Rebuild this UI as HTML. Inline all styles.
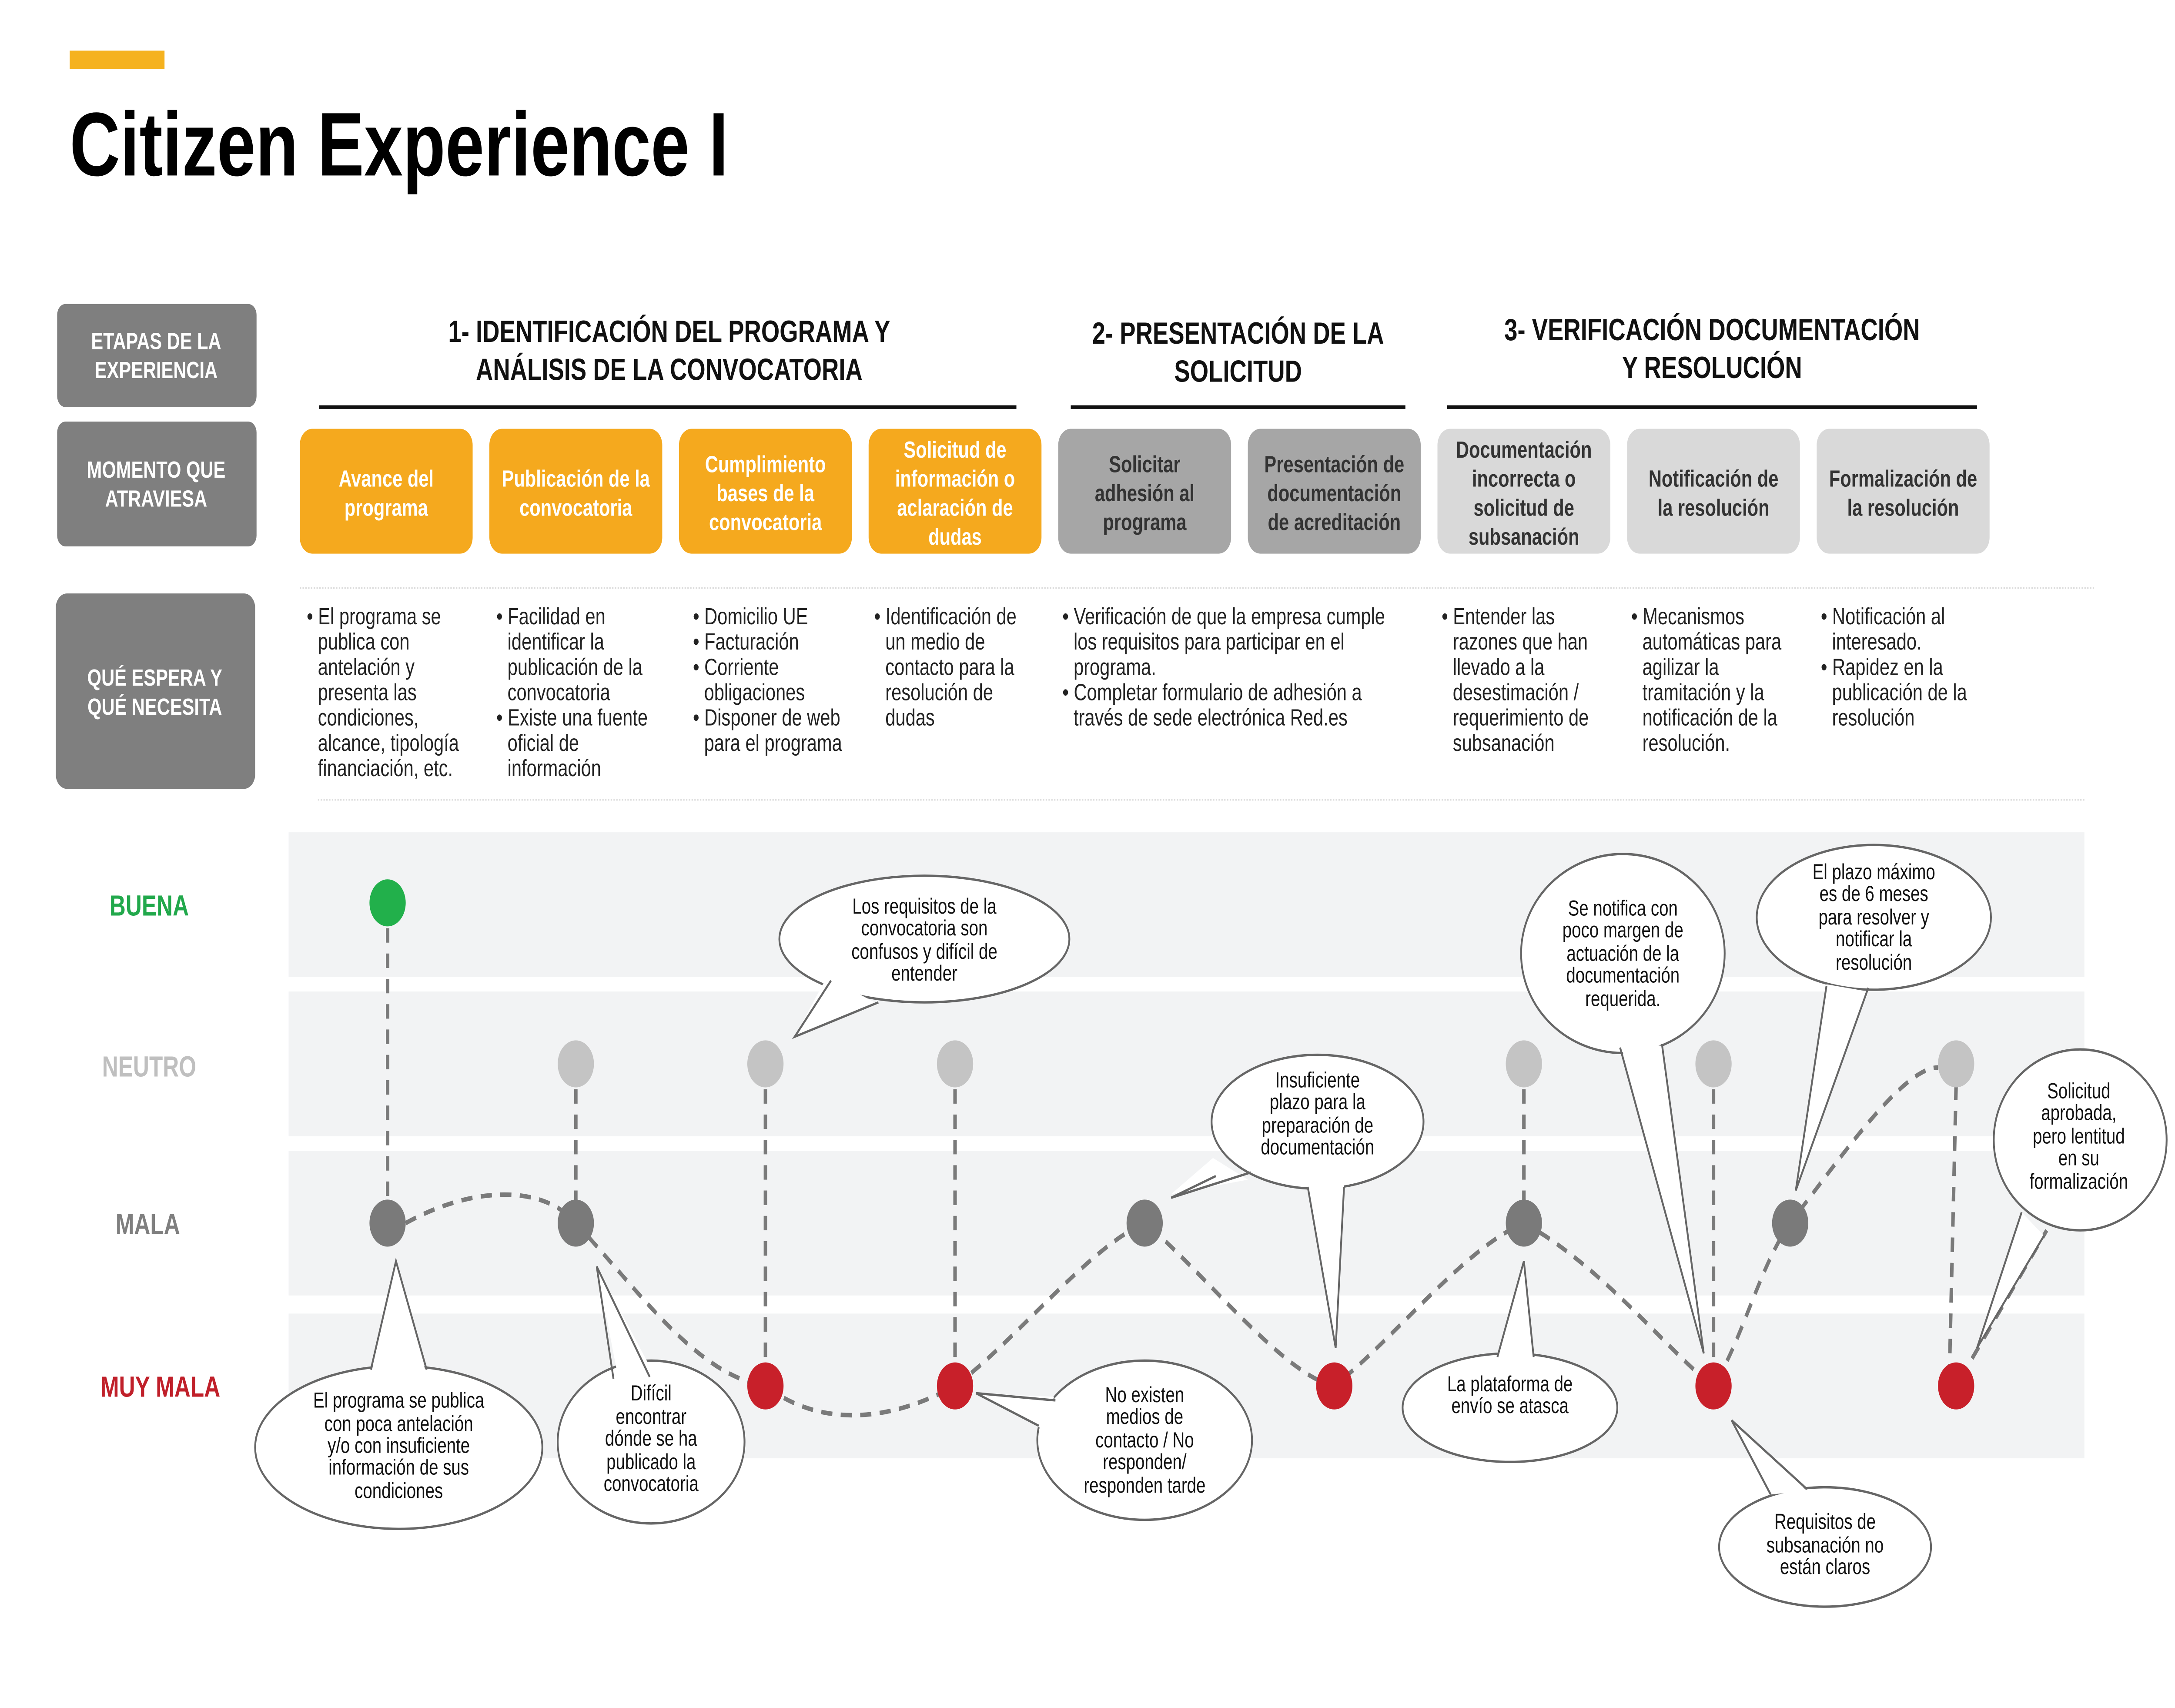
<!DOCTYPE html>
<html><head><meta charset="utf-8"><style>html,body{margin:0;padding:0;background:#fff;width:100%;height:100%;overflow:hidden}svg{display:block;position:absolute;left:0;top:0;width:100vw;height:100vh}text{font-family:"Liberation Sans",Arial,sans-serif}</style></head><body>
<svg viewBox="0 0 1560 944" preserveAspectRatio="none" xmlns="http://www.w3.org/2000/svg">
<rect width="1560" height="944" fill="#fff"/>
<rect x="50" y="28" width="68" height="10" fill="#f5b21f"/>
<text x="50" y="97" font-size="50" font-weight="bold" fill="#000">Citizen Experience I</text>

<g fill="#7f7f7f">
<rect x="41" y="168" width="143" height="57" rx="6"/>
<rect x="41" y="233" width="143" height="69" rx="6"/>
<rect x="40" y="328" width="143" height="108" rx="8"/>
</g>
<g fill="#fff" font-size="13" font-weight="bold" text-anchor="middle">
<text x="112" y="193">ETAPAS DE LA</text><text x="112" y="209">EXPERIENCIA</text>
<text x="112" y="264">MOMENTO QUE</text><text x="112" y="280">ATRAVIESA</text>
<text x="111" y="379">QUÉ ESPERA Y</text><text x="111" y="395">QUÉ NECESITA</text>
</g>

<g font-size="17" font-weight="bold" text-anchor="middle" fill="#111">
<text x="480" y="189">1- IDENTIFICACIÓN DEL PROGRAMA Y</text><text x="480" y="210">ANÁLISIS DE LA CONVOCATORIA</text>
<text x="888" y="190">2- PRESENTACIÓN DE LA</text><text x="888" y="211">SOLICITUD</text>
<text x="1228" y="188">3- VERIFICACIÓN DOCUMENTACIÓN</text><text x="1228" y="209">Y RESOLUCIÓN</text>
</g>
<g stroke="#111" stroke-width="2">
<line x1="229" y1="225" x2="729" y2="225"/><line x1="768" y1="225" x2="1008" y2="225"/><line x1="1038" y1="225" x2="1418" y2="225"/>
</g>

<g fill="#f5a91e"><rect x="215" y="237" width="124" height="69" rx="9"/><rect x="351" y="237" width="124" height="69" rx="9"/><rect x="487" y="237" width="124" height="69" rx="9"/><rect x="623" y="237" width="124" height="69" rx="9"/></g>
<g fill="#a6a6a6"><rect x="759" y="237" width="124" height="69" rx="9"/><rect x="895" y="237" width="124" height="69" rx="9"/></g>
<g fill="#d9d9d9"><rect x="1031" y="237" width="124" height="69" rx="9"/><rect x="1167" y="237" width="124" height="69" rx="9"/><rect x="1303" y="237" width="124" height="69" rx="9"/></g>
<g font-size="13" font-weight="bold" text-anchor="middle" fill="#fff">
<text x="277" y="269">Avance del</text><text x="277" y="285">programa</text>
<text x="413" y="269">Publicación de la</text><text x="413" y="285">convocatoria</text>
<text x="549" y="261">Cumplimiento</text><text x="549" y="277">bases de la</text><text x="549" y="293">convocatoria</text>
<text x="685" y="253">Solicitud de</text><text x="685" y="269">información o</text><text x="685" y="285">aclaración de</text><text x="685" y="301">dudas</text>
</g>
<g font-size="13" font-weight="bold" text-anchor="middle" fill="#333">
<text x="821" y="261">Solicitar</text><text x="821" y="277">adhesión al</text><text x="821" y="293">programa</text>
<text x="957" y="261">Presentación de</text><text x="957" y="277">documentación</text><text x="957" y="293">de acreditación</text>
<text x="1093" y="253">Documentación</text><text x="1093" y="269">incorrecta o</text><text x="1093" y="285">solicitud de</text><text x="1093" y="301">subsanación</text>
<text x="1229" y="269">Notificación de</text><text x="1229" y="285">la resolución</text>
<text x="1365" y="269">Formalización de</text><text x="1365" y="285">la resolución</text>
</g>

<g stroke="#ddd" stroke-width="1" stroke-dasharray="1,1"><line x1="215" y1="325" x2="1502" y2="325"/><line x1="228" y1="442" x2="1496" y2="442"/></g>

<g font-size="13" fill="#222">
<text x="220" y="345">• El programa se</text><text x="228" y="359">publica con</text><text x="228" y="373">antelación y</text><text x="228" y="387">presenta las</text><text x="228" y="401">condiciones,</text><text x="228" y="415">alcance, tipología</text><text x="228" y="429">financiación, etc.</text>
<text x="356" y="345">• Facilidad en</text><text x="364" y="359">identificar la</text><text x="364" y="373">publicación de la</text><text x="364" y="387">convocatoria</text><text x="356" y="401">• Existe una fuente</text><text x="364" y="415">oficial de</text><text x="364" y="429">información</text>
<text x="497" y="345">• Domicilio UE</text><text x="497" y="359">• Facturación</text><text x="497" y="373">• Corriente</text><text x="505" y="387">obligaciones</text><text x="497" y="401">• Disponer de web</text><text x="505" y="415">para el programa</text>
<text x="627" y="345">• Identificación de</text><text x="635" y="359">un medio de</text><text x="635" y="373">contacto para la</text><text x="635" y="387">resolución de</text><text x="635" y="401">dudas</text>
<text x="762" y="345">• Verificación de que la empresa cumple</text><text x="770" y="359">los requisitos para participar en el</text><text x="770" y="373">programa.</text><text x="762" y="387">• Completar formulario de adhesión a</text><text x="770" y="401">través de sede electrónica Red.es</text>
<text x="1034" y="345">• Entender las</text><text x="1042" y="359">razones que han</text><text x="1042" y="373">llevado a la</text><text x="1042" y="387">desestimación /</text><text x="1042" y="401">requerimiento de</text><text x="1042" y="415">subsanación</text>
<text x="1170" y="345">• Mecanismos</text><text x="1178" y="359">automáticas para</text><text x="1178" y="373">agilizar la</text><text x="1178" y="387">tramitación y la</text><text x="1178" y="401">notificación de la</text><text x="1178" y="415">resolución.</text>
<text x="1306" y="345">• Notificación al</text><text x="1314" y="359">interesado.</text><text x="1306" y="373">• Rapidez en la</text><text x="1314" y="387">publicación de la</text><text x="1314" y="401">resolución</text>
</g>

<g fill="#f2f3f4">
<rect x="207" y="460" width="1288" height="80"/><rect x="207" y="548" width="1288" height="80"/><rect x="207" y="636" width="1288" height="80"/><rect x="207" y="726" width="1288" height="80"/>
</g>
<g font-size="16" font-weight="bold" text-anchor="middle">
<text x="107" y="506" fill="#21a84b">BUENA</text>
<text x="107" y="595" fill="#bfbfbf">NEUTRO</text>
<text x="106" y="682" fill="#7f7f7f">MALA</text>
<text x="115" y="772" fill="#c0202a">MUY MALA</text>
</g>

<g stroke="#7a7a7a" stroke-width="2.5" stroke-dasharray="8,6" fill="none">
<line x1="278" y1="499" x2="278" y2="676"/><line x1="413" y1="588" x2="413" y2="676"/><line x1="549" y1="588" x2="549" y2="766"/><line x1="685" y1="588" x2="685" y2="766"/>
<line x1="1093" y1="588" x2="1093" y2="676"/><line x1="1229" y1="588" x2="1229" y2="766"/><line x1="1403" y1="600" x2="1398" y2="766"/>
<path d="M291,676 C340,655 390,655 413,676 C460,715 500,760 549,766 C590,790 640,785 685,766 C730,740 780,690 821,676 C860,700 920,760 957,766 C1000,740 1050,690 1093,676 C1150,700 1200,750 1229,766 C1250,740 1262,700 1284,676 C1320,640 1365,590 1390,590"/>
<line x1="1406" y1="762" x2="1468" y2="680"/>
</g>

<g>
<ellipse cx="278" cy="499" rx="13" ry="13" fill="#22b04b"/>
<g fill="#7a7a7a"><ellipse cx="278" cy="676" rx="13" ry="13"/><ellipse cx="413" cy="676" rx="13" ry="13"/><ellipse cx="821" cy="676" rx="13" ry="13"/><ellipse cx="1093" cy="676" rx="13" ry="13"/><ellipse cx="1284" cy="676" rx="13" ry="13"/></g>
<g fill="#c4c4c4"><ellipse cx="413" cy="588" rx="13" ry="13"/><ellipse cx="549" cy="588" rx="13" ry="13"/><ellipse cx="685" cy="588" rx="13" ry="13"/><ellipse cx="1093" cy="588" rx="13" ry="13"/><ellipse cx="1229" cy="588" rx="13" ry="13"/><ellipse cx="1403" cy="588" rx="13" ry="13"/></g>
<g fill="#c8202a"><ellipse cx="549" cy="766" rx="13" ry="13"/><ellipse cx="685" cy="766" rx="13" ry="13"/><ellipse cx="957" cy="766" rx="13" ry="13"/><ellipse cx="1229" cy="766" rx="13" ry="13"/><ellipse cx="1403" cy="766" rx="13" ry="13"/></g>
</g>

<g stroke="#666" stroke-width="1.3" fill="#fff">
<ellipse cx="286" cy="800" rx="103" ry="45"/>
<ellipse cx="467" cy="797" rx="67" ry="45"/>
<ellipse cx="663" cy="519" rx="104" ry="35"/>
<ellipse cx="821" cy="796" rx="77" ry="44"/>
<ellipse cx="945" cy="620" rx="76" ry="37"/>
<ellipse cx="1083" cy="778" rx="77" ry="30"/>
<ellipse cx="1164" cy="527" rx="73" ry="55"/>
<ellipse cx="1344" cy="507" rx="84" ry="40"/>
<ellipse cx="1492" cy="630" rx="62" ry="50"/>
<ellipse cx="1309" cy="855" rx="76" ry="33"/>
</g>
<g fill="#fff" stroke="none">
<polygon points="266,760 284,697 306,760"/>
<polygon points="443,760 428,700 468,758"/>
<polygon points="593,540 570,573 630,555"/>
<polygon points="748,790 700,770 756,772"/>
<polygon points="870,640 840,660 895,652"/>
<polygon points="938,655 958,745 964,655"/>
<polygon points="1074,750 1093,697 1100,750"/>
<polygon points="1162,576 1222,748 1192,578"/>
<polygon points="1310,544 1288,658 1340,548"/>
<polygon points="1450,670 1418,745 1466,683"/>
<polygon points="1270,826 1242,785 1296,824"/>
</g>
<g stroke="#666" stroke-width="1.3" fill="none">
<polyline points="266,757 284,697 306,757"/>
<polyline points="440,762 428,700 466,761"/>
<polyline points="596,542 570,573 630,554"/>
<polyline points="745,788 700,770 757,774"/>
<polyline points="872,650 840,662 897,648"/>
<polyline points="938,656 958,745 964,656"/>
<polyline points="1074,750 1093,697 1100,750"/>
<polyline points="1162,579 1222,748 1192,577"/>
<polyline points="1310,545 1288,658 1340,546"/>
<polyline points="1450,670 1418,745 1466,683"/>
<polyline points="1270,826 1242,785 1296,823"/>
</g>
<g font-size="12" fill="#111" text-anchor="middle">
<text x="286" y="778">El programa se publica</text><text x="286" y="791">con poca antelación</text><text x="286" y="803">y/o con insuficiente</text><text x="286" y="815">información de sus</text><text x="286" y="828">condiciones</text>
<text x="467" y="774">Difícil</text><text x="467" y="787">encontrar</text><text x="467" y="799">dónde se ha</text><text x="467" y="812">publicado la</text><text x="467" y="824">convocatoria</text>
<text x="663" y="505">Los requisitos de la</text><text x="663" y="517">convocatoria son</text><text x="663" y="530">confusos y difícil de</text><text x="663" y="542">entender</text>
<text x="821" y="775">No existen</text><text x="821" y="787">medios de</text><text x="821" y="800">contacto / No</text><text x="821" y="812">responden/</text><text x="821" y="825">responden tarde</text>
<text x="945" y="601">Insuficiente</text><text x="945" y="613">plazo para la</text><text x="945" y="626">preparación de</text><text x="945" y="638">documentación</text>
<text x="1083" y="769">La plataforma de</text><text x="1083" y="781">envío se atasca</text>
<text x="1164" y="506">Se notifica con</text><text x="1164" y="518">poco margen de</text><text x="1164" y="531">actuación de la</text><text x="1164" y="543">documentación</text><text x="1164" y="556">requerida.</text>
<text x="1344" y="486">El plazo máximo</text><text x="1344" y="498">es de 6 meses</text><text x="1344" y="511">para resolver y</text><text x="1344" y="523">notificar la</text><text x="1344" y="536">resolución</text>
<text x="1491" y="607">Solicitud</text><text x="1491" y="619">aprobada,</text><text x="1491" y="632">pero lentitud</text><text x="1491" y="644">en su</text><text x="1491" y="657">formalización</text>
<text x="1309" y="845">Requisitos de</text><text x="1309" y="858">subsanación no</text><text x="1309" y="870">están claros</text>
</g>
</svg>
</body></html>
